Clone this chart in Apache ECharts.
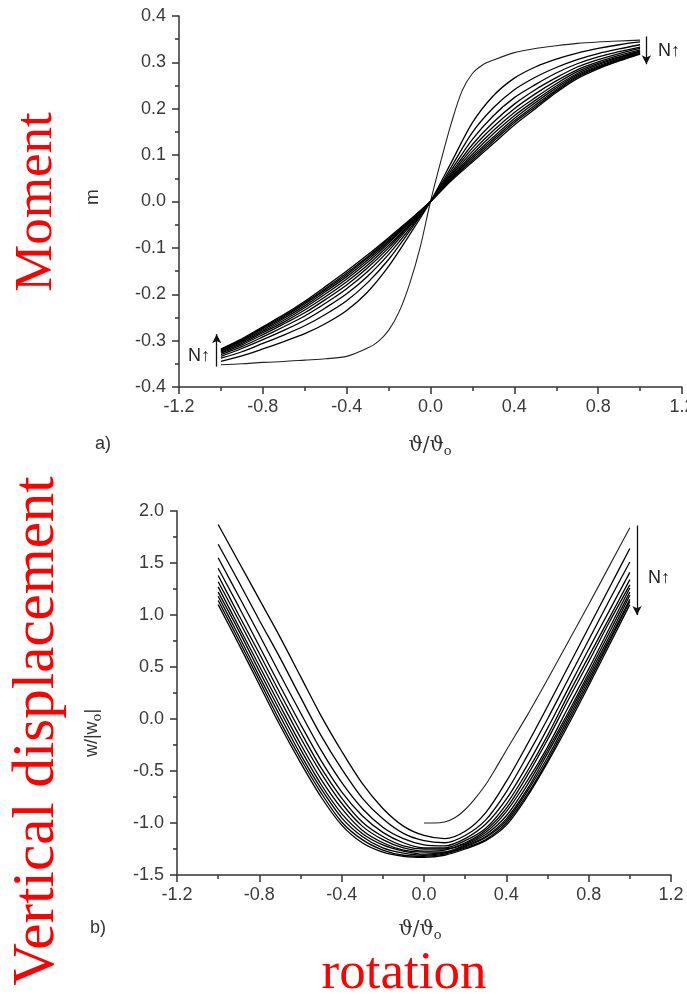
<!DOCTYPE html>
<html><head><meta charset="utf-8">
<script src="https://cdn.jsdelivr.net/npm/echarts@6/dist/echarts.min.js"></script>
<style>html,body{margin:0;padding:0;background:#fff}#c{width:687px;height:995px}</style>
</head><body><div id="c"></div>
<script>
// ---------- Top panel (a): moment m vs rotation ----------
const xTicksTop = [-1.2, -0.8, -0.4, 0.0, 0.4, 0.8, 1.2];
const yTicksTop = [-0.4, -0.3, -0.2, -0.1, 0.0, 0.1, 0.2, 0.3, 0.4];
const xsM = [-1,-0.9,-0.8,-0.7,-0.6,-0.5,-0.4,-0.3,-0.2,-0.1,0,0.1,0.2,0.3,0.4,0.5,0.6,0.7,0.8,0.9,1];
const xsSteep = [-1,-0.9,-0.8,-0.7,-0.6,-0.5,-0.4,-0.3,-0.25,-0.2,-0.15,-0.1,-0.05,0,0.05,0.1,0.15,0.2,0.25,0.3,0.4,0.5,0.6,0.7,0.8,0.9,1];
const mSteep = [-0.352,-0.350,-0.347,-0.345,-0.342,-0.339,-0.334,-0.316,-0.302,-0.278,-0.238,-0.178,-0.100,0,0.088,0.170,0.238,0.276,0.295,0.305,0.321,0.330,0.336,0.341,0.344,0.346,0.348];
const m1  = [-0.345,-0.333,-0.318,-0.302,-0.285,-0.263,-0.235,-0.195,-0.140,-0.072,0,0.085,0.170,0.228,0.266,0.290,0.307,0.320,0.330,0.338,0.344];
const m2  = [-0.338,-0.324,-0.306,-0.288,-0.268,-0.243,-0.214,-0.175,-0.125,-0.064,0,0.075,0.149,0.202,0.241,0.268,0.289,0.306,0.319,0.329,0.338];
const m3  = [-0.334,-0.317,-0.298,-0.278,-0.256,-0.229,-0.199,-0.161,-0.114,-0.059,0,0.068,0.134,0.185,0.224,0.252,0.277,0.297,0.312,0.323,0.333];
const m4  = [-0.330,-0.313,-0.292,-0.270,-0.247,-0.219,-0.188,-0.151,-0.106,-0.054,0,0.063,0.123,0.171,0.210,0.241,0.267,0.290,0.306,0.319,0.330];
const m5  = [-0.327,-0.309,-0.287,-0.264,-0.240,-0.211,-0.180,-0.143,-0.100,-0.051,0,0.059,0.115,0.161,0.200,0.232,0.260,0.284,0.301,0.315,0.327];
const m6  = [-0.325,-0.306,-0.283,-0.260,-0.234,-0.205,-0.173,-0.137,-0.095,-0.049,0,0.056,0.108,0.153,0.192,0.224,0.254,0.280,0.298,0.312,0.325];
const m7  = [-0.323,-0.303,-0.280,-0.256,-0.229,-0.199,-0.167,-0.131,-0.090,-0.046,0,0.053,0.102,0.146,0.185,0.218,0.249,0.276,0.295,0.310,0.323];
const m8  = [-0.322,-0.301,-0.277,-0.252,-0.225,-0.194,-0.162,-0.126,-0.087,-0.044,0,0.051,0.097,0.139,0.179,0.213,0.245,0.273,0.292,0.308,0.322];
const m9  = [-0.320,-0.299,-0.274,-0.249,-0.221,-0.190,-0.158,-0.122,-0.084,-0.043,0,0.049,0.093,0.134,0.174,0.208,0.241,0.270,0.290,0.306,0.320];
const m10 = [-0.319,-0.298,-0.272,-0.247,-0.218,-0.187,-0.154,-0.119,-0.081,-0.041,0,0.047,0.089,0.130,0.170,0.204,0.238,0.268,0.288,0.304,0.319];
const m11 = [-0.318,-0.296,-0.270,-0.244,-0.215,-0.183,-0.150,-0.115,-0.078,-0.040,0,0.045,0.085,0.125,0.165,0.200,0.235,0.265,0.286,0.303,0.318];

// ---------- Bottom panel (b): vertical displacement w/|wo| vs rotation ----------
const xTicksBot = [-1.2, -0.8, -0.4, 0.0, 0.4, 0.8, 1.2];
const yTicksBot = [-1.5, -1.0, -0.5, 0.0, 0.5, 1.0, 1.5, 2.0];
const xsW0 = [0,0.05,0.1,0.15,0.2,0.25,0.3,0.35,0.4,0.5,0.6,0.7,0.8,0.9,1.0];
const w0 = [-1.00,-1.00,-0.99,-0.95,-0.87,-0.76,-0.63,-0.47,-0.30,0.03,0.38,0.74,1.10,1.47,1.84];
const xsW = [-1,-0.9,-0.8,-0.7,-0.6,-0.5,-0.4,-0.3,-0.2,-0.1,0,0.1,0.2,0.3,0.4,0.5,0.6,0.7,0.8,0.9,1];
const w1  = [1.87,1.51,1.15,0.79,0.41,0.03,-0.31,-0.62,-0.86,-1.03,-1.12,-1.15,-1.08,-0.90,-0.60,-0.25,0.12,0.50,0.88,1.26,1.64];
const w2  = [1.68,1.32,0.95,0.59,0.21,-0.16,-0.48,-0.76,-0.96,-1.10,-1.17,-1.19,-1.12,-0.97,-0.70,-0.36,0.00,0.38,0.76,1.14,1.51];
const w3  = [1.55,1.18,0.81,0.43,0.06,-0.30,-0.61,-0.86,-1.04,-1.15,-1.21,-1.22,-1.15,-1.01,-0.77,-0.45,-0.09,0.29,0.67,1.04,1.41];
const w4  = [1.45,1.08,0.70,0.32,-0.05,-0.40,-0.70,-0.93,-1.09,-1.19,-1.24,-1.24,-1.17,-1.05,-0.82,-0.51,-0.16,0.23,0.60,0.97,1.34];
const w5  = [1.38,1.00,0.63,0.25,-0.12,-0.47,-0.76,-0.99,-1.13,-1.22,-1.25,-1.25,-1.19,-1.07,-0.86,-0.55,-0.20,0.18,0.55,0.93,1.29];
const w6  = [1.32,0.95,0.57,0.19,-0.18,-0.52,-0.81,-1.03,-1.16,-1.24,-1.27,-1.26,-1.20,-1.09,-0.89,-0.60,-0.27,0.11,0.48,0.87,1.26];
const w7  = [1.27,0.89,0.51,0.13,-0.24,-0.58,-0.86,-1.07,-1.19,-1.26,-1.28,-1.28,-1.21,-1.11,-0.93,-0.64,-0.30,0.06,0.44,0.83,1.22];
const w8  = [1.22,0.85,0.46,0.08,-0.29,-0.63,-0.91,-1.10,-1.21,-1.27,-1.30,-1.28,-1.22,-1.13,-0.96,-0.68,-0.33,0.03,0.41,0.79,1.19];
const w9  = [1.18,0.80,0.41,0.03,-0.34,-0.67,-0.95,-1.13,-1.24,-1.29,-1.31,-1.29,-1.23,-1.14,-0.98,-0.70,-0.37,0.00,0.38,0.76,1.15];
const w10 = [1.14,0.76,0.37,-0.02,-0.38,-0.71,-0.99,-1.16,-1.26,-1.31,-1.32,-1.30,-1.24,-1.16,-1.00,-0.73,-0.40,-0.03,0.35,0.74,1.13];
const w11 = [1.10,0.72,0.33,-0.06,-0.42,-0.75,-1.02,-1.19,-1.28,-1.32,-1.33,-1.31,-1.25,-1.17,-1.02,-0.75,-0.42,-0.06,0.32,0.71,1.10];

const mFamily = [m1,m2,m3,m4,m5,m6,m7,m8,m9,m10,m11];
const wFamily = [w1,w2,w3,w4,w5,w6,w7,w8,w9,w10,w11];

const zip = (xs, ys) => xs.map((x, i) => [x, ys[i]]);
const axisCol = '#333';
const labCol = '#3a3a3a';
const fmt = v => v.toFixed(1);

function xAxisCfg(gi, ticks) {
  return {
    type: 'value', gridIndex: gi, min: ticks[0], max: ticks[ticks.length-1], interval: 0.4,
    axisLine: {show: true, onZero: false, lineStyle: {color: axisCol, width: 1.5}},
    axisTick: {show: true, inside: false, length: 7, lineStyle: {color: axisCol, width: 1.5}},
    minorTick: {show: true, splitNumber: 2, length: 4, lineStyle: {color: axisCol, width: 1.5}},
    splitLine: {show: false},
    axisLabel: {color: labCol, fontSize: 18, fontFamily: 'Liberation Sans, Arial', margin: 11, formatter: fmt, showMaxLabel: true, showMinLabel: true, hideOverlap: false}
  };
}
function yAxisCfg(gi, ticks, iv) {
  return {
    type: 'value', gridIndex: gi, min: ticks[0], max: ticks[ticks.length-1], interval: iv,
    axisLine: {show: true, onZero: false, lineStyle: {color: axisCol, width: 1.5}},
    axisTick: {show: true, inside: false, length: 7, lineStyle: {color: axisCol, width: 1.5}},
    minorTick: {show: true, splitNumber: 2, length: 4, lineStyle: {color: axisCol, width: 1.5}},
    splitLine: {show: false},
    axisLabel: {color: labCol, fontSize: 18, fontFamily: 'Liberation Sans, Arial', margin: 13, formatter: fmt, hideOverlap: false}
  };
}

const lineBase = {type: 'line', showSymbol: false, smooth: 0.3, silent: true, z: 3};
const series = [];
series.push(Object.assign({}, lineBase, {xAxisIndex: 0, yAxisIndex: 0, data: zip(xsSteep, mSteep), lineStyle: {color: '#222', width: 1.1},
  markLine: {silent: true, symbol: ['none', 'arrow'], symbolSize: [7, 9], label: {show: false},
    lineStyle: {color: '#111', width: 1.3, type: 'solid'},
    data: [
      [{coord: [1.03, 0.356]}, {coord: [1.03, 0.296]}],
      [{coord: [-1.02, -0.356]}, {coord: [-1.02, -0.286]}]
    ]}}));
mFamily.forEach(arr => series.push(Object.assign({}, lineBase, {xAxisIndex: 0, yAxisIndex: 0, data: zip(xsM, arr), lineStyle: {color: '#000', width: 1.3}})));
series.push(Object.assign({}, lineBase, {xAxisIndex: 1, yAxisIndex: 1, data: zip(xsW0, w0), lineStyle: {color: '#222', width: 1.1},
  markLine: {silent: true, symbol: ['none', 'arrow'], symbolSize: [7, 9], label: {show: false},
    lineStyle: {color: '#111', width: 1.3, type: 'solid'},
    data: [[{coord: [1.035, 1.86]}, {coord: [1.035, 1.00]}]]}}));
wFamily.forEach(arr => series.push(Object.assign({}, lineBase, {xAxisIndex: 1, yAxisIndex: 1, data: zip(xsW, arr), lineStyle: {color: '#000', width: 1.3}})));

const txt = (x, y, text, opt) => ({type: 'text', x: x, y: y, rotation: (opt && opt.rot) || 0, z: 10,
  style: Object.assign({text: text, fill: '#333', font: '17px Liberation Sans', align: 'center', verticalAlign: 'middle'}, (opt && opt.style) || {})});
const subRich = {s: {fontSize: 13, verticalAlign: 'bottom', padding: [12, 0, 0, 0], fill: '#333', fontFamily: 'DejaVu Serif'}};

const chart = echarts.init(document.getElementById('c'), null, {renderer: 'canvas'});
chart.setOption({
  animation: false,
  backgroundColor: '#fff',
  grid: [
    {left: 179, top: 16, width: 503, height: 371, containLabel: false, outerBoundsMode: 'none'},
    {left: 177, top: 511, width: 494, height: 364, containLabel: false, outerBoundsMode: 'none'}
  ],
  xAxis: [xAxisCfg(0, xTicksTop), xAxisCfg(1, xTicksBot)],
  yAxis: [yAxisCfg(0, yTicksTop, 0.1), yAxisCfg(1, yTicksBot, 0.5)],
  series: series,
  graphic: [
    txt(93, 197, 'm', {rot: Math.PI/2, style: {font: '19px Liberation Sans'}}),
    txt(92, 733, 'w/|w{s|o}|', {rot: Math.PI/2, style: {font: '18px Liberation Sans', rich: subRich}}),
    txt(430, 446, 'ϑ/ϑ{s|o}', {style: {font: '20px DejaVu Serif', rich: subRich}}),
    txt(420, 930, 'ϑ/ϑ{s|o}', {style: {font: '20px DejaVu Serif', rich: subRich}}),
    txt(103, 444, 'a)', {style: {font: '18px Liberation Sans'}}),
    txt(98, 928, 'b)', {style: {font: '18px Liberation Sans'}}),
    txt(669, 51, 'N↑', {style: {font: '18px Liberation Sans', fill: '#222'}}),
    txt(199, 356, 'N↑', {style: {font: '18px Liberation Sans', fill: '#222'}}),
    txt(659, 578, 'N↑', {style: {font: '18px Liberation Sans', fill: '#222'}}),
    txt(37, 202, 'Moment', {rot: Math.PI/2, style: {font: '53px Liberation Serif', fill: '#ff0000'}}),
    txt(37, 731, 'Vertical displacement', {rot: Math.PI/2, style: {font: '59px Liberation Serif', fill: '#ff0000'}}),
    txt(404, 974, 'rotation', {style: {font: '53px Liberation Serif', fill: '#ff0000'}})
  ]
});
</script></body></html>
